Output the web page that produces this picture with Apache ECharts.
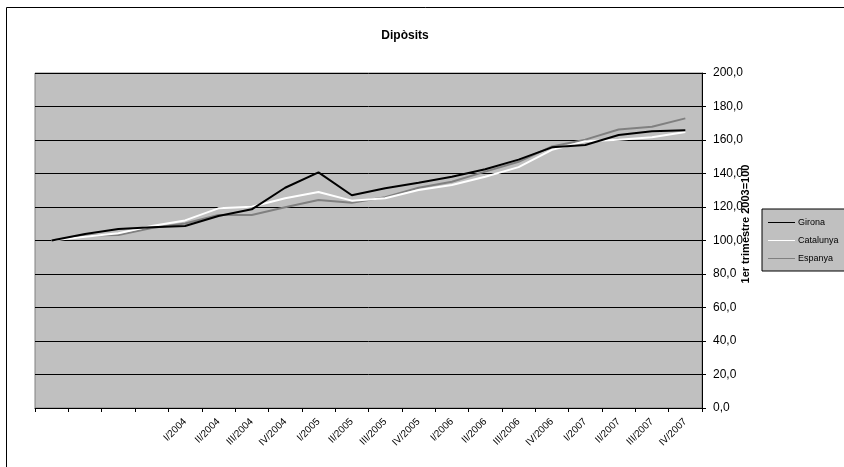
<!DOCTYPE html>
<html>
<head>
<meta charset="utf-8">
<style>
  html, body { margin: 0; padding: 0; background: #fff; }
  #chart { width: 844px; height: 467px; }
</style>
<script src="https://cdn.jsdelivr.net/npm/echarts@6/dist/echarts.min.js"></script>
</head>
<body>
<div id="chart"></div>
<script>
// quarters: the four 2003 quarters carry no label
var quarters = ['', '', '', '',
  'I/2004', 'II/2004', 'III/2004', 'IV/2004',
  'I/2005', 'II/2005', 'III/2005', 'IV/2005',
  'I/2006', 'II/2006', 'III/2006', 'IV/2006',
  'I/2007', 'II/2007', 'III/2007', 'IV/2007'];

var girona = [100, 103.9, 106.9, 107.9, 108.7, 114.6, 118.6, 131.5, 140.7, 127.0,
  131.2, 134.5, 138.1, 142.5, 148.3, 155.6, 157.0, 163.0, 165.2, 165.8];
var catalunya = [100, 102.3, 104.3, 108.7, 112.0, 119.2, 120.2, 125.2, 129.0, 123.8,
  125.2, 130.1, 133.1, 138.1, 143.8, 154.1, 159.2, 160.2, 161.6, 164.8];
var espanya = [100, 103.0, 103.3, 107.5, 110.2, 115.2, 115.2, 119.8, 124.2, 122.6,
  125.8, 131.5, 135.1, 141.1, 147.0, 156.2, 160.2, 166.3, 167.9, 172.9];

var axisName = '1er trimestre 2003=100';

var font = 'Liberation Sans, Arial, sans-serif';

var option = {
    animation: false,
    backgroundColor: '#fff',
    title: {
        text: 'Dipòsits',
        left: 400,
        top: 25,
        textAlign: 'center',
        textStyle: {
            fontFamily: 'Liberation Sans Narrow, Liberation Sans, Arial',
            fontSize: 12,
            fontWeight: 'bold',
            color: '#000'
        }
    },
    graphic: [{
        type: 'rect',
        shape: { x: 6.5, y: 7.5, width: 900, height: 500 },
        style: { fill: null, stroke: '#000', lineWidth: 1 },
        z: -1
    }, {
        // axis title sits over the tick labels, as in the original
        type: 'text',
        x: 746,
        y: 224,
        rotation: Math.PI / 2,
        z: 10,
        style: {
            text: axisName,
            fontFamily: font,
            fontSize: 11,
            fontWeight: 'bold',
            fill: '#000',
            align: 'center',
            verticalAlign: 'middle'
        }
    }],
    legend: {
        orient: 'vertical',
        left: 762,
        top: 209,
        itemWidth: 27,
        itemHeight: 1,
        itemGap: 7,
        padding: [8, 10, 7, 6],
        backgroundColor: '#c0c0c0',
        borderColor: '#000',
        borderWidth: 1,
        borderRadius: 0,
        icon: 'rect',
        data: ['Girona', 'Catalunya', 'Espanya'],
        textStyle: { fontFamily: font, fontSize: 9, lineHeight: 11, color: '#000', padding: [0, 0, 0, -2] }
    },
    grid: {
        left: 35,
        right: 142,
        top: 73,
        bottom: 59,
        show: true,
        backgroundColor: '#c0c0c0',
        borderColor: '#808080',
        borderWidth: 1
    },
    xAxis: {
        type: 'category',
        data: quarters,
        boundaryGap: true,
        axisLine: { lineStyle: { color: '#000', width: 1 } },
        axisTick: { show: true, length: 4, interval: 0, lineStyle: { color: '#000' } },
        axisLabel: {
            interval: 0,
            rotate: 45,
            margin: 12,
            fontFamily: font,
            fontSize: 10,
            color: '#000'
        },
        splitLine: { show: false }
    },
    yAxis: {
        type: 'value',
        position: 'right',
        min: 0,
        max: 200,
        interval: 20,
        axisLine: { show: true, lineStyle: { color: '#000', width: 1 } },
        axisTick: { show: true, length: 4, lineStyle: { color: '#000' } },
        axisLabel: {
            margin: 11,
            fontFamily: font,
            fontSize: 12,
            color: '#000',
            formatter: function (v) { return v.toFixed(1).replace('.', ','); }
        },
        splitLine: { show: true, lineStyle: { color: '#000', width: 1 } }
    },
    series: [
        {
            name: 'Girona', type: 'line', data: girona, symbol: 'none',
            lineStyle: { color: '#000', width: 2 }, itemStyle: { color: '#000' }, z: 4
        },
        {
            name: 'Catalunya', type: 'line', data: catalunya, symbol: 'none',
            lineStyle: { color: '#fff', width: 2 }, itemStyle: { color: '#fff' }, z: 3
        },
        {
            name: 'Espanya', type: 'line', data: espanya, symbol: 'none',
            lineStyle: { color: '#808080', width: 2 }, itemStyle: { color: '#808080' }, z: 2
        }
    ]
};

var myecharts = echarts.init(document.getElementById('chart'));
myecharts.setOption(option);
</script>
</body>
</html>
